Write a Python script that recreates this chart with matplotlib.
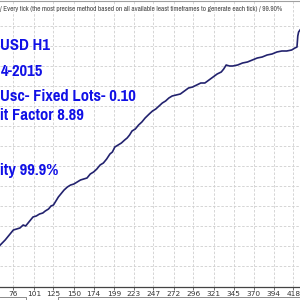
import matplotlib
matplotlib.use('Agg')
import matplotlib.pyplot as plt
from matplotlib import font_manager
from matplotlib.lines import Line2D

# trade number on the x axis, ticks as printed under the chart
tick_labels = [76, 101, 125, 150, 174, 199, 223, 247, 272, 296, 321, 345, 370, 394, 418]

# balance curve (y axis has no labels in the crop)
trades = [56, 60, 66, 72, 76, 80, 84, 88, 91, 94, 97, 100, 104, 108, 112, 115, 119, 122,
          125, 128, 131, 134, 138, 142, 146, 150, 154, 158, 162, 166, 170, 174, 178, 182,
          186, 190, 194, 197, 200, 204, 208, 212, 215, 218, 221, 225, 229, 233, 237, 242,
          246, 250, 254, 258, 262, 266, 270, 275, 280, 285, 290, 295, 300, 305, 310, 315,
          320, 325, 330, 333, 336, 340, 344, 350, 356, 362, 368, 374, 380, 386, 392, 398,
          404, 410, 416, 420, 422.5, 423.5, 424.5, 428]
balance = [37, 41, 46, 52, 56, 57, 58, 61, 60, 63, 66, 69, 70, 72, 73, 75, 77, 80,
           81, 85, 89, 92, 96, 99, 101, 102, 104, 106, 107, 108, 112, 114, 117, 121,
           123, 127, 132, 134, 139, 141, 143, 146, 148, 151, 155, 157, 161, 164, 168, 172,
           175, 177, 180, 183, 185, 188, 190, 191, 192, 195, 198, 199, 201, 203, 203, 206,
           209, 212, 214, 217, 221, 220, 220, 221, 223, 224, 226, 228, 229, 231, 232, 234,
           235, 235, 236, 238, 239, 250, 254, 258]

title = '/ Every tick (the most precise method based on all available least timeframes to generate each tick) / 99.90%'
overlay = [('USD H1', 46),
           ('4-2015', 71),
           ('Usc- Fixed Lots- 0.10', 97),
           ('it Factor 8.89', 116),
           ('ity 99.9%', 171)]


def pick_narrow(bold):
    best = None
    for f in font_manager.fontManager.ttflist:
        narrowish = ('Narrow' in f.name or 'Condensed' in f.name
                     or f.stretch in ('condensed', 'semi-condensed', 'extra-condensed'))
        w = f.weight if isinstance(f.weight, int) else 700 if 'bold' in str(f.weight) else 400
        if narrowish and (w >= 600) == bold and 'italic' not in f.style and 'oblique' not in f.style:
            if best is None or 'Narrow' in f.name:
                best = f
    if best is None:
        return font_manager.FontProperties(family='DejaVu Sans',
                                           weight='bold' if bold else 'normal')
    return font_manager.FontProperties(fname=best.fname)


fp_bold = pick_narrow(True)
fp_reg = pick_narrow(False)

fig = plt.figure(figsize=(3, 3), dpi=100)
fig.patch.set_facecolor('white')
ax = fig.add_axes([0, 1 - 287 / 300, 1, 287 / 300])

ax.plot(trades, balance, color='#22226e', lw=1.2, solid_joinstyle='round')

ax.set_xlim(59.7, 426.2)
ax.set_ylim(-1, 286)
ax.set_xticks(tick_labels)
ax.set_xticklabels([str(t) for t in tick_labels])
ax.set_yticks(range(20, 261, 20))
ax.tick_params(axis='y', left=False, labelleft=False)
ax.tick_params(axis='x', length=2, width=0.6, color='#555555', pad=1,
               labelsize=5.3, labelcolor='#333333')
ax.grid(True, color='#cfcfcf', lw=0.6, linestyle=(0, (3, 2)))
for s in ['top', 'left', 'right']:
    ax.spines[s].set_visible(False)
ax.spines['bottom'].set_color('#444444')
ax.spines['bottom'].set_linewidth(0.9)

fig.canvas.draw()
renderer = fig.canvas.get_renderer()

# tester header line, stretched to the width it has in the screenshot
t = fig.text(0.5 / 300, 1 - 9 / 300, title, color='#444444',
             fontproperties=fp_reg, va='center', ha='left',
             bbox=dict(facecolor='white', edgecolor='none', pad=0.6))
t.set_fontsize(4)
t.set_fontsize(4 * 283 / t.get_window_extent(renderer).width)

# blue caption painted over the chart
for txt, ypx in overlay:
    t = fig.text(0.5 / 300, 1 - ypx / 300, txt, color='#1010e6',
                 fontproperties=fp_bold, va='center', ha='left')
    t.set_fontsize(13)

# frame bits of the report window
fig.add_artist(Line2D([0, 1], [1 - 0.8 / 300] * 2, color='#a0a0a0', lw=0.8))
fig.add_artist(Line2D([0, 26 / 300, 26 / 300], [1 - 297 / 300, 1 - 297 / 300, 0],
                      color='#8a8a8a', lw=0.7))
fig.add_artist(Line2D([1, 58 / 300, 58 / 300], [1 - 297 / 300, 1 - 297 / 300, 0],
                      color='#8a8a8a', lw=0.7))

fig.savefig('out.png', dpi=100, facecolor='white')
